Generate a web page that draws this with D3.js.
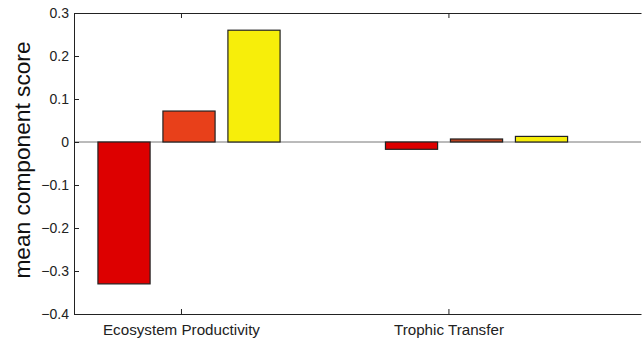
<!DOCTYPE html>
<html>
<head>
<meta charset="utf-8">
<script src="https://cdn.jsdelivr.net/npm/d3@7"></script>
<style>
  body { margin: 0; background: #fff; }
  text { font-family: "Liberation Sans", Arial, sans-serif; }
</style>
</head>
<body>
<svg id="chart" width="642" height="341"></svg>
<script>
const categories = ['Ecosystem Productivity', 'Trophic Transfer'];
const categoryTicks = [1, 2];
// bar group centres as they sit in the figure (slightly right of the tick)
const groupCentres = [1.03, 2.105];
const seriesNames = ['low', 'mid', 'high'];
const seriesValues = [
  [-0.33, 0.072, 0.26],
  [-0.017, 0.007, 0.013]
];
const seriesColors = [
  ['#dd0000', '#e8401a', '#f7ee0a'],
  ['#dd0000', '#b8401f', '#f7ee0a']
];
const yTicks = [0.3, 0.2, 0.1, 0, -0.1, -0.2, -0.3, -0.4];

const svg = d3.select('#chart');
const margin = {top: 13, right: 1, bottom: 27, left: 74};
const width = +svg.attr('width') - margin.left - margin.right;
const height = +svg.attr('height') - margin.top - margin.bottom;

const x = d3.scaleLinear().domain([0.6, 2.72]).range([0, width]);
const y = d3.scaleLinear().domain([-0.4, 0.3]).range([height, 0]);
const barStep = 0.243, barWidth = 0.195;

const g = svg.append('g')
    .attr('transform', 'translate(' + margin.left + ',' + margin.top + ')');

// zero line
g.append('line')
    .attr('x1', 0).attr('x2', width)
    .attr('y1', y(0)).attr('y2', y(0))
    .attr('stroke', '#777').attr('stroke-width', 1);

categories.forEach((cat, i) => {
  seriesValues[i].forEach((v, j) => {
    const cx = groupCentres[i] + (j - 1) * barStep;
    g.append('rect')
        .attr('x', x(cx - barWidth / 2))
        .attr('width', x(cx + barWidth / 2) - x(cx - barWidth / 2))
        .attr('y', y(Math.max(0, v)))
        .attr('height', Math.abs(y(v) - y(0)))
        .attr('fill', seriesColors[i][j])
        .attr('stroke', '#222')
        .attr('stroke-width', 1.2);
  });
});

const yAxis = d3.axisLeft(y).tickValues(yTicks).tickSizeInner(-5).tickSizeOuter(0)
    .tickPadding(5)
    .tickFormat(d => d === 0 ? '0' : d3.format('.1f')(d).replace('-', '\u2212'));
const yg = g.append('g').call(yAxis);
yg.select('.domain').attr('stroke', '#222');
yg.selectAll('.tick line').attr('stroke', '#222');
yg.selectAll('text').attr('font-size', 14).attr('fill', '#222');

const xAxis = d3.axisBottom(x).tickValues(categoryTicks).tickSizeInner(-5).tickSizeOuter(0)
    .tickPadding(10)
    .tickFormat((d, i) => categories[i]);
const xg = g.append('g').attr('transform', 'translate(0,' + height + ')').call(xAxis);
xg.select('.domain').attr('stroke', '#222');
xg.selectAll('.tick line').attr('stroke', '#222');
xg.selectAll('text').attr('font-size', 15.2).attr('fill', '#222');

// top frame with ticks
const xTop = d3.axisTop(x).tickValues(categoryTicks).tickSizeInner(-5).tickSizeOuter(0).tickFormat('');
const tg = g.append('g').call(xTop);
tg.select('.domain').attr('stroke', '#222');
tg.selectAll('.tick line').attr('stroke', '#222');

svg.append('text')
    .attr('transform', 'translate(30,160) rotate(-90)')
    .attr('text-anchor', 'middle')
    .attr('font-size', 22.7)
    .attr('fill', '#111')
    .text('mean component score');
</script>
</body>
</html>
